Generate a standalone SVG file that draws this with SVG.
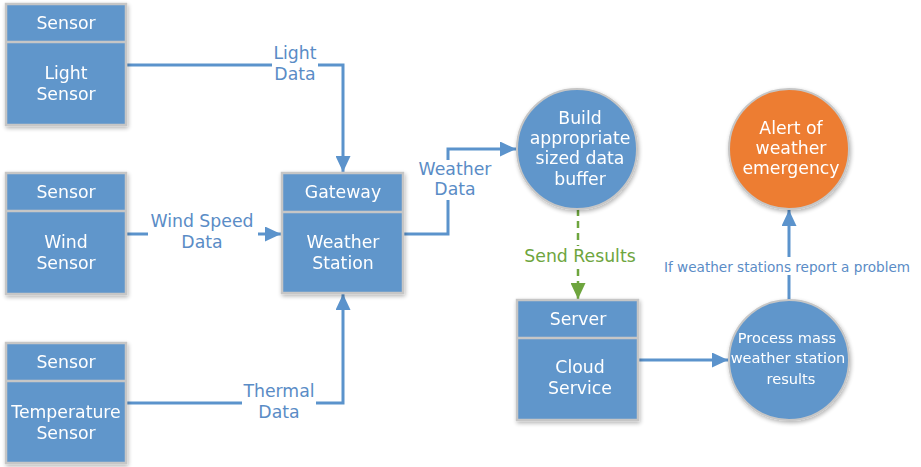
<svg xmlns="http://www.w3.org/2000/svg" width="921" height="467" viewBox="0 0 921 467">
<style>
.box{fill:#6096cb;stroke:#c6c6c6;stroke-width:2.5}
.div{stroke:#c6c6c6;stroke-width:2.5}
.circ{fill:#6096cb;stroke:#c6c6c6;stroke-width:2}
.orange{fill:#ed7d32;stroke:#c6c6c6;stroke-width:2}
.t{font-family:"DejaVu Sans",Verdana,sans-serif;font-size:17.3px;fill:#ffffff;text-anchor:middle}
.ts{font-size:14.6px}
.lbl{font-family:"DejaVu Sans",Verdana,sans-serif;font-size:17.3px;fill:#5a8cc6;text-anchor:middle}
.lblg{fill:#6ea53e}
.lbls{font-size:13.6px}
.ln{fill:none;stroke:#5b93cc;stroke-width:3}
.dash{fill:none;stroke:#6ea53e;stroke-width:2.5;stroke-dasharray:7,5}
.bg{fill:#ffffff}
</style>
<defs>
<filter id="sh" x="-10%" y="-10%" width="130%" height="130%">
<feGaussianBlur in="SourceAlpha" stdDeviation="2"/>
<feOffset dx="1" dy="2"/>
<feComponentTransfer><feFuncA type="linear" slope="0.3"/></feComponentTransfer>
<feMerge><feMergeNode/><feMergeNode in="SourceGraphic"/></feMerge>
</filter>
<marker id="ab" viewBox="0 0 16 15" refX="16" refY="7.5" markerWidth="16" markerHeight="15" markerUnits="userSpaceOnUse" orient="auto">
<path d="M0,0 L16,7.5 L0,15 Z" fill="#5b93cc"/>
</marker>
<marker id="ag" viewBox="0 0 16 15" refX="16" refY="7.5" markerWidth="16" markerHeight="15" markerUnits="userSpaceOnUse" orient="auto">
<path d="M0,0 L16,7.5 L0,15 Z" fill="#6ea53e"/>
</marker>
</defs>

<g id="connectors">
<path class="ln" d="M126,65 H343 V172" marker-end="url(#ab)"/>
<path class="ln" d="M126,234 H281" marker-end="url(#ab)"/>
<path class="ln" d="M126,403 H343 V294" marker-end="url(#ab)"/>
<path class="ln" d="M403,234 H448 V149 H516" marker-end="url(#ab)"/>
<path class="dash" d="M578,209 V299" marker-end="url(#ag)"/>
<path class="ln" d="M638,360 H728" marker-end="url(#ab)"/>
<path class="ln" d="M789,301 V210" marker-end="url(#ab)"/>
<rect class="bg" x="272" y="45" width="46" height="40"/>
<text class="lbl" x="295" y="59">Light</text>
<text class="lbl" x="295" y="80">Data</text>
<rect class="bg" x="148" y="212" width="110" height="40"/>
<text class="lbl" x="202" y="227">Wind Speed</text>
<text class="lbl" x="202" y="248">Data</text>
<rect class="bg" x="242" y="382" width="74" height="40"/>
<text class="lbl" x="279" y="397">Thermal</text>
<text class="lbl" x="279" y="418">Data</text>
<rect class="bg" x="416" y="160" width="78" height="40"/>
<text class="lbl" x="455" y="175">Weather</text>
<text class="lbl" x="455" y="195">Data</text>
<rect class="bg" x="520" y="246" width="120" height="22"/>
<text class="lbl lblg" x="580" y="262">Send Results</text>
<rect class="bg" x="660" y="257" width="256" height="18"/>
<text class="lbl lbls" x="787" y="272">If weather stations report a problem</text>
</g>

<g id="light-sensor" filter="url(#sh)">
<rect class="box" x="6" y="4" width="120" height="121"/>
<line class="div" x1="6" y1="42" x2="126" y2="42"/>
<text class="t" x="66" y="29">Sensor</text>
<text class="t" x="66" y="79">Light</text>
<text class="t" x="66" y="100">Sensor</text>
</g>

<g id="wind-sensor" filter="url(#sh)">
<rect class="box" x="6" y="173" width="120" height="121"/>
<line class="div" x1="6" y1="211" x2="126" y2="211"/>
<text class="t" x="66" y="198">Sensor</text>
<text class="t" x="66" y="248">Wind</text>
<text class="t" x="66" y="269">Sensor</text>
</g>

<g id="temperature-sensor" filter="url(#sh)">
<rect class="box" x="6" y="343" width="120" height="120"/>
<line class="div" x1="6" y1="381" x2="126" y2="381"/>
<text class="t" x="66" y="368">Sensor</text>
<text class="t" x="66" y="418">Temperature</text>
<text class="t" x="66" y="439">Sensor</text>
</g>

<g id="gateway" filter="url(#sh)">
<rect class="box" x="282" y="173" width="121" height="120"/>
<line class="div" x1="282" y1="212" x2="403" y2="212"/>
<text class="t" x="343" y="198">Gateway</text>
<text class="t" x="343" y="248">Weather</text>
<text class="t" x="343" y="269">Station</text>
</g>

<g id="server" filter="url(#sh)">
<rect class="box" x="517" y="300" width="121" height="120"/>
<line class="div" x1="517" y1="338" x2="638" y2="338"/>
<text class="t" x="578" y="325">Server</text>
<text class="t" x="580" y="373">Cloud</text>
<text class="t" x="580" y="394">Service</text>
</g>

<g id="build-buffer" filter="url(#sh)">
<circle class="circ" cx="577" cy="149" r="60"/>
<text class="t" x="580" y="124">Build</text>
<text class="t" x="580" y="144">appropriate</text>
<text class="t" x="580" y="164">sized data</text>
<text class="t" x="580" y="185">buffer</text>
</g>

<g id="alert" filter="url(#sh)">
<circle class="orange" cx="789" cy="149" r="60"/>
<text class="t" x="791" y="134">Alert of</text>
<text class="t" x="791" y="154">weather</text>
<text class="t" x="791" y="174">emergency</text>
</g>

<g id="process" filter="url(#sh)">
<circle class="circ" cx="789" cy="360" r="60"/>
<text class="t ts" x="787" y="343">Process mass</text>
<text class="t ts" x="788" y="363">weather station</text>
<text class="t ts" x="791" y="384">results</text>
</g>
</svg>
